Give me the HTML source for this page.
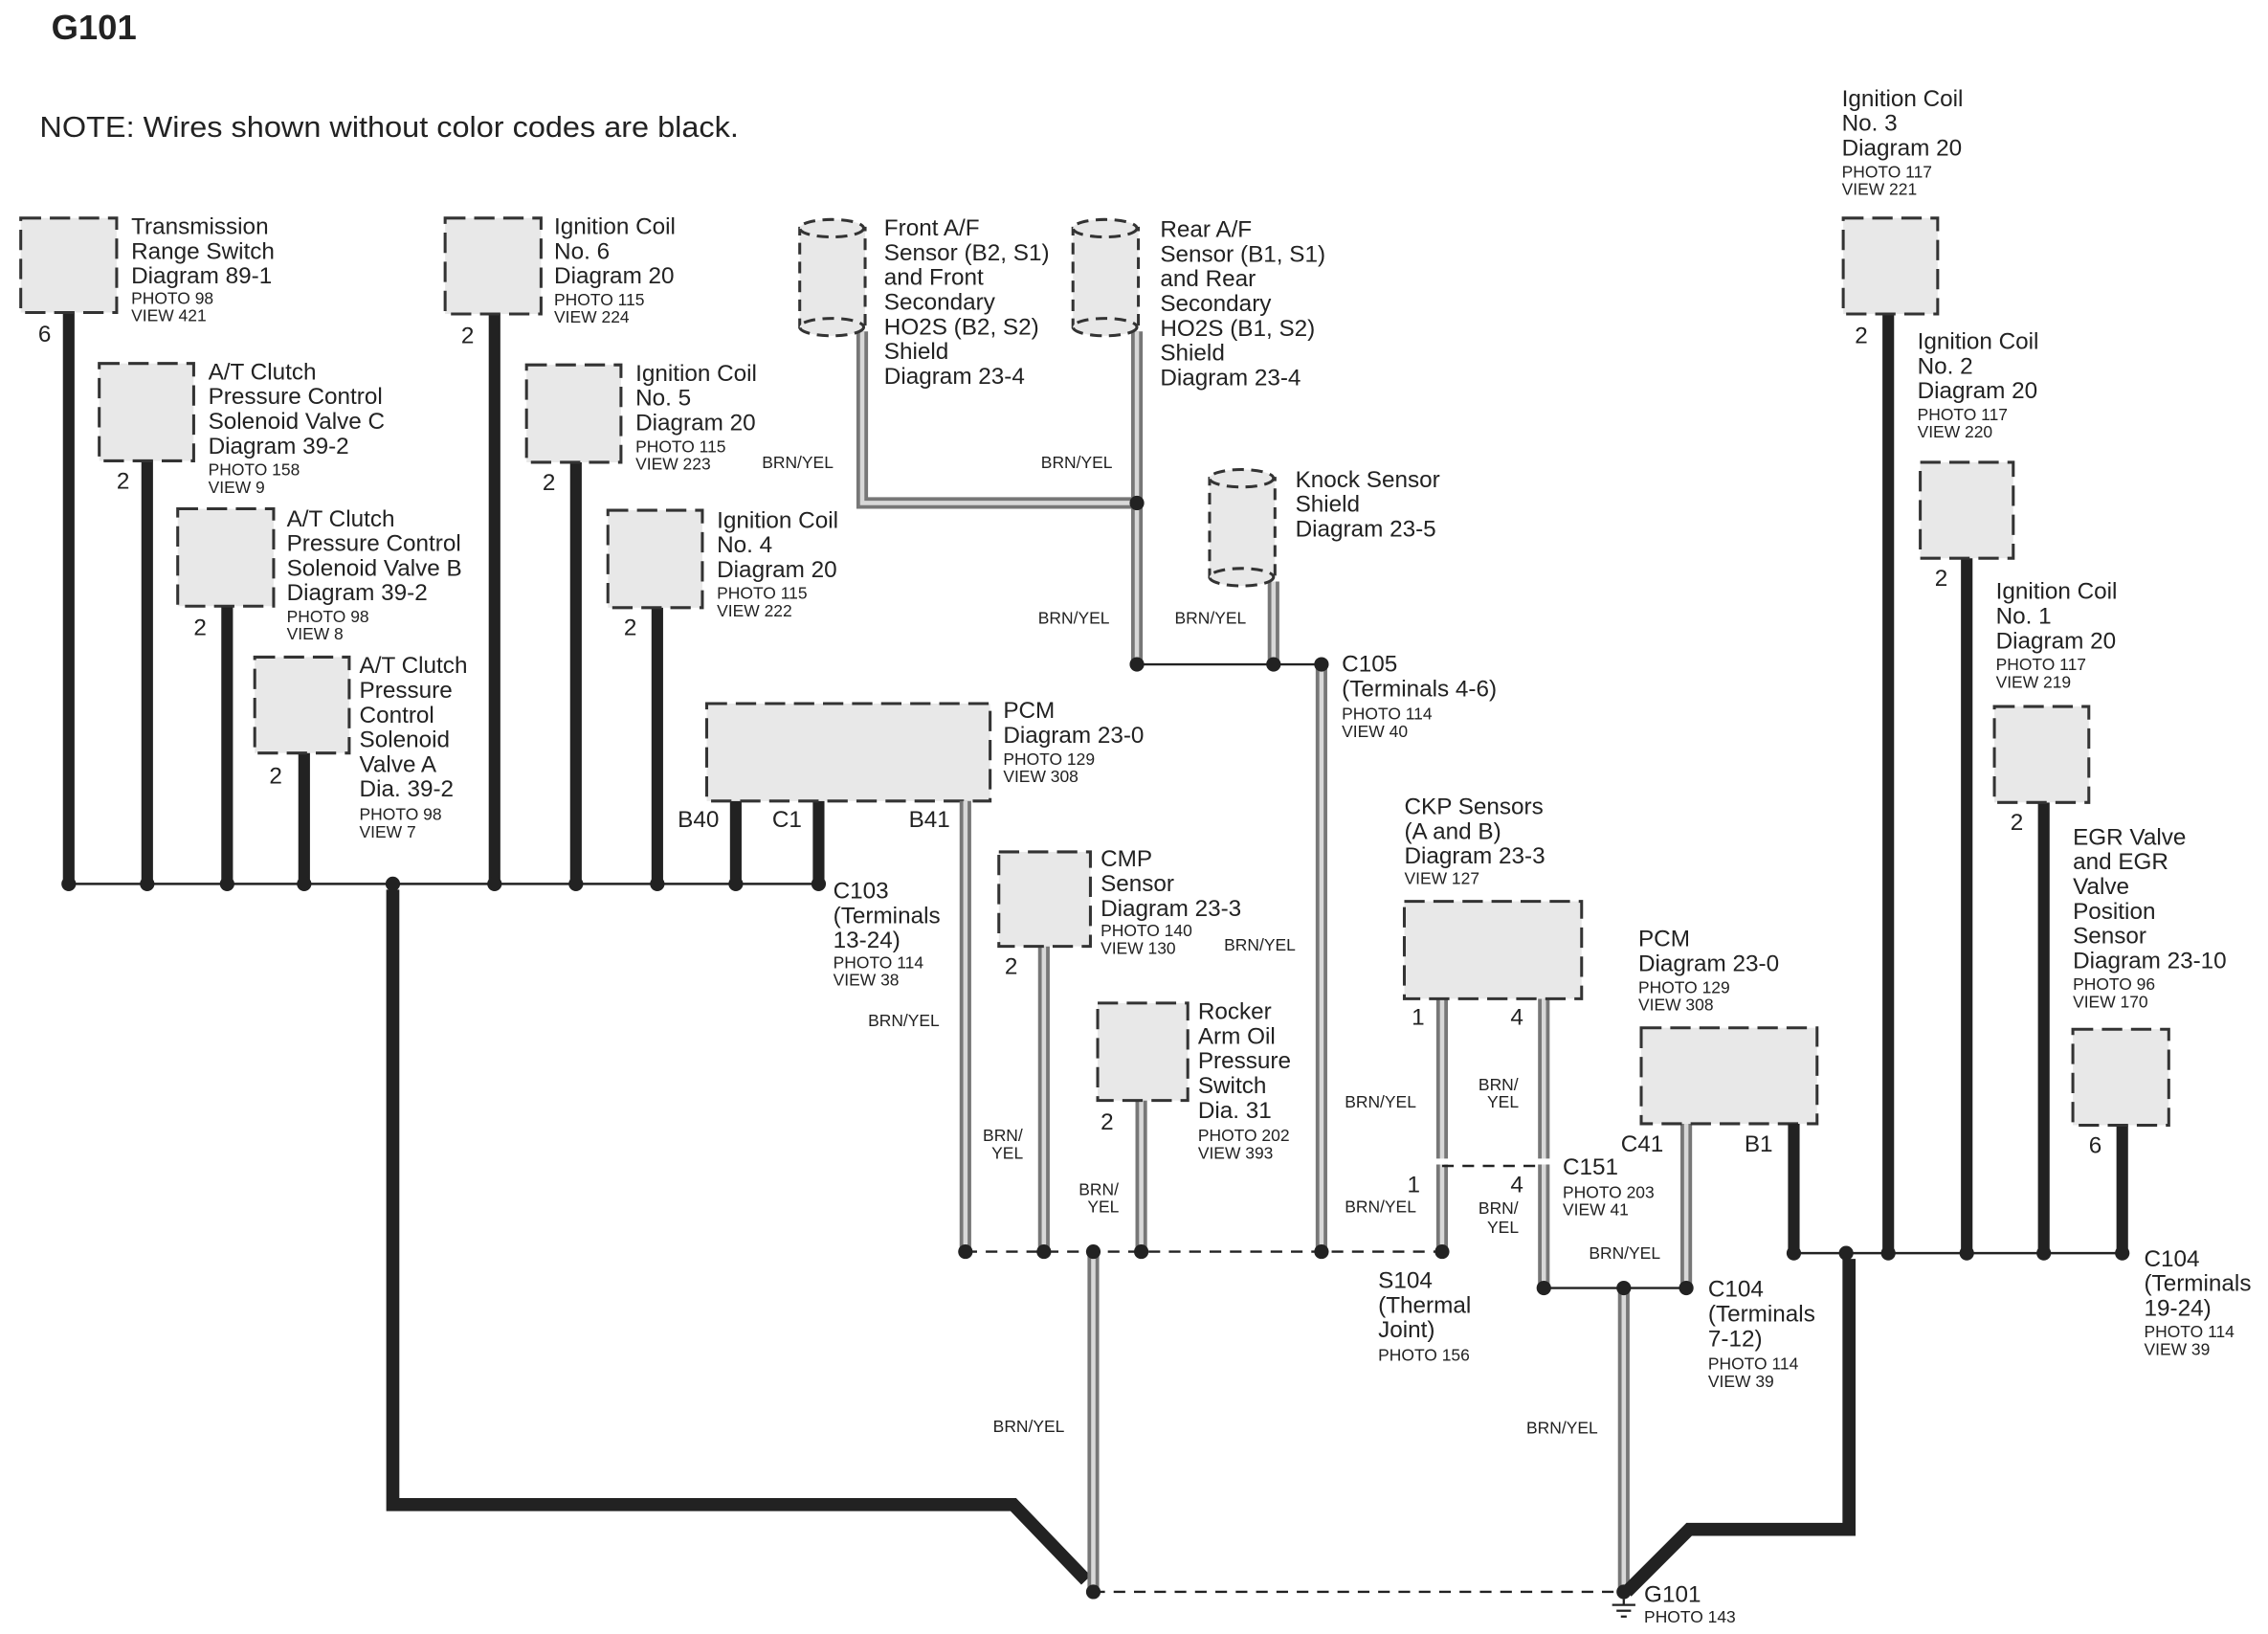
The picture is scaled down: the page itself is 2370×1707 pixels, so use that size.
<!DOCTYPE html>
<html><head><meta charset="utf-8">
<style>
html,body{margin:0;padding:0;background:#fff;}
svg{display:block;}
text{font-family:"Liberation Sans",sans-serif;fill:#222;}
.l{font-size:16px;}
.s{font-size:11.5px;}
.w{font-size:11.5px;}
.box{fill:#e8e8e8;stroke:#333;stroke-width:2;stroke-dasharray:14 6;}
.bk{stroke:#222;stroke-width:8;fill:none;}
.thk{stroke:#222;stroke-width:9;fill:none;stroke-linejoin:miter;}
.by1{stroke:#777;stroke-width:8;fill:none;}
.by2{stroke:#d8d8d8;stroke-width:3;fill:none;}
.thin{stroke:#222;stroke-width:1.6;fill:none;}
.dsh{stroke:#222;stroke-width:1.6;fill:none;stroke-dasharray:8 6;}
.cyl{fill:#e8e8e8;stroke:#333;stroke-width:2;stroke-dasharray:8 5;}
</style></head>
<body>
<svg width="2370" height="1707" viewBox="0 0 1560 1124" xmlns="http://www.w3.org/2000/svg">
<rect width="1560" height="1124" fill="#fff"/>
<text x="35" y="27" style="font-size:24px;font-weight:bold">G101</text>
<text x="27" y="94" style="font-size:20px" textLength="481" lengthAdjust="spacingAndGlyphs">NOTE: Wires shown without color codes are black.</text>

<!-- left bus -->
<line class="thin" x1="47" y1="608" x2="565" y2="608"/>
<line class="bk" x1="47" y1="215" x2="47" y2="608"/>
<line class="bk" x1="101" y1="317" x2="101" y2="608"/>
<line class="bk" x1="156" y1="417" x2="156" y2="608"/>
<line class="bk" x1="209" y1="518" x2="209" y2="608"/>
<line class="bk" x1="340" y1="216" x2="340" y2="608"/>
<line class="bk" x1="396" y1="318" x2="396" y2="608"/>
<line class="bk" x1="452" y1="418" x2="452" y2="608"/>
<line class="bk" x1="506" y1="551" x2="506" y2="608"/>
<line class="bk" x1="563" y1="551" x2="563" y2="608"/>
<path class="thk" d="M270 612 L270 1035 L697 1035 L747 1087"/>

<rect class="box" x="14" y="150" width="66" height="65"/>
<rect class="box" x="68" y="250" width="65" height="67"/>
<rect class="box" x="122" y="350" width="66" height="67"/>
<rect class="box" x="175" y="452" width="65" height="66"/>
<rect class="box" x="306" y="150" width="66" height="66"/>
<rect class="box" x="362" y="251" width="65" height="67"/>
<rect class="box" x="418" y="351" width="65" height="67"/>
<rect class="box" x="486" y="484" width="195" height="67"/>

<g class="l">
<text x="26" y="235">6</text><text x="80" y="336">2</text><text x="133" y="437">2</text><text x="185" y="539">2</text>
<text x="317" y="236">2</text><text x="373" y="337">2</text><text x="429" y="437">2</text>
<text x="466" y="569">B40</text><text x="531" y="569">C1</text><text x="625" y="569">B41</text>
</g>
<text class="l" x="90" y="161">Transmission<tspan x="90" dy="17">Range Switch</tspan><tspan x="90" dy="17">Diagram 89-1</tspan></text>
<text class="s" x="90" y="209">PHOTO 98<tspan x="90" dy="12">VIEW 421</tspan></text>
<text class="l" x="143" y="261">A/T Clutch<tspan x="143" dy="17">Pressure Control</tspan><tspan x="143" dy="17">Solenoid Valve C</tspan><tspan x="143" dy="17">Diagram 39-2</tspan></text>
<text class="s" x="143" y="327">PHOTO 158<tspan x="143" dy="12">VIEW 9</tspan></text>
<text class="l" x="197" y="362">A/T Clutch<tspan x="197" dy="17">Pressure Control</tspan><tspan x="197" dy="17">Solenoid Valve B</tspan><tspan x="197" dy="17">Diagram 39-2</tspan></text>
<text class="s" x="197" y="428">PHOTO 98<tspan x="197" dy="12">VIEW 8</tspan></text>
<text class="l" x="247" y="463">A/T Clutch<tspan x="247" dy="17">Pressure</tspan><tspan x="247" dy="17">Control</tspan><tspan x="247" dy="17">Solenoid</tspan><tspan x="247" dy="17">Valve A</tspan><tspan x="247" dy="17">Dia. 39-2</tspan></text>
<text class="s" x="247" y="564">PHOTO 98<tspan x="247" dy="12">VIEW 7</tspan></text>
<text class="l" x="381" y="161">Ignition Coil<tspan x="381" dy="17">No. 6</tspan><tspan x="381" dy="17">Diagram 20</tspan></text>
<text class="s" x="381" y="210">PHOTO 115<tspan x="381" dy="12">VIEW 224</tspan></text>
<text class="l" x="437" y="262">Ignition Coil<tspan x="437" dy="17">No. 5</tspan><tspan x="437" dy="17">Diagram 20</tspan></text>
<text class="s" x="437" y="311">PHOTO 115<tspan x="437" dy="12">VIEW 223</tspan></text>
<text class="l" x="493" y="363">Ignition Coil<tspan x="493" dy="17">No. 4</tspan><tspan x="493" dy="17">Diagram 20</tspan></text>
<text class="s" x="493" y="412">PHOTO 115<tspan x="493" dy="12">VIEW 222</tspan></text>
<text class="l" x="690" y="494">PCM<tspan x="690" dy="17">Diagram 23-0</tspan></text>
<text class="s" x="690" y="526">PHOTO 129<tspan x="690" dy="12">VIEW 308</tspan></text>
<text class="l" x="573" y="618">C103<tspan x="573" dy="17">(Terminals</tspan><tspan x="573" dy="17">13-24)</tspan></text>
<text class="s" x="573" y="666">PHOTO 114<tspan x="573" dy="12">VIEW 38</tspan></text>

<g fill="#222">
<circle cx="47" cy="608" r="5"/><circle cx="101" cy="608" r="5"/><circle cx="156" cy="608" r="5"/><circle cx="209" cy="608" r="5"/><circle cx="270" cy="608" r="5"/><circle cx="340" cy="608" r="5"/><circle cx="396" cy="608" r="5"/><circle cx="452" cy="608" r="5"/><circle cx="506" cy="608" r="5"/><circle cx="563" cy="608" r="5"/>
</g>

<g>
<path class="by1" d="M593 228 L593 346 L782 346"/>
<line class="by1" x1="782" y1="228" x2="782" y2="457"/>
<line class="by1" x1="876" y1="400" x2="876" y2="457"/>
<line class="by1" x1="909" y1="457" x2="909" y2="861"/>
<line class="by1" x1="664" y1="551" x2="664" y2="861"/>
<line class="by1" x1="718" y1="651" x2="718" y2="861"/>
<line class="by1" x1="785" y1="757" x2="785" y2="861"/>
<line class="by1" x1="752" y1="861" x2="752" y2="1095"/>
<line class="by1" x1="992" y1="687" x2="992" y2="861"/>
<line class="by1" x1="1062" y1="687" x2="1062" y2="886"/>
<line class="by1" x1="1160" y1="773" x2="1160" y2="886"/>
<line class="by1" x1="1117" y1="886" x2="1117" y2="1095"/>
<path class="by2" d="M593 228 L593 346 L782 346"/>
<line class="by2" x1="782" y1="228" x2="782" y2="457"/>
<line class="by2" x1="876" y1="400" x2="876" y2="457"/>
<line class="by2" x1="909" y1="457" x2="909" y2="861"/>
<line class="by2" x1="664" y1="551" x2="664" y2="861"/>
<line class="by2" x1="718" y1="651" x2="718" y2="861"/>
<line class="by2" x1="785" y1="757" x2="785" y2="861"/>
<line class="by2" x1="752" y1="861" x2="752" y2="1095"/>
<line class="by2" x1="992" y1="687" x2="992" y2="861"/>
<line class="by2" x1="1062" y1="687" x2="1062" y2="886"/>
<line class="by2" x1="1160" y1="773" x2="1160" y2="886"/>
<line class="by2" x1="1117" y1="886" x2="1117" y2="1095"/>
</g>
<line class="thin" x1="782" y1="457" x2="909" y2="457"/>
<line class="dsh" x1="664" y1="861" x2="992" y2="861"/>
<line class="dsh" x1="992" y1="802" x2="1062" y2="802"/>
<line class="thin" x1="1062" y1="886" x2="1160" y2="886"/>
<line class="dsh" x1="752" y1="1095" x2="1117" y2="1095"/>
<line x1="984" y1="799" x2="1000" y2="799" stroke="#fff" stroke-width="4"/>
<line x1="1054" y1="799" x2="1070" y2="799" stroke="#fff" stroke-width="4"/>

<g>
<rect class="cyl" x="550" y="157" width="45" height="68"/>
<ellipse class="cyl" cx="572" cy="157" rx="22" ry="6"/>
<ellipse class="cyl" cx="572" cy="225" rx="22" ry="6"/>
<rect class="cyl" x="738" y="157" width="45" height="68"/>
<ellipse class="cyl" cx="760" cy="157" rx="22" ry="6"/>
<ellipse class="cyl" cx="760" cy="225" rx="22" ry="6"/>
<rect class="cyl" x="832" y="329" width="45" height="68"/>
<ellipse class="cyl" cx="854" cy="329" rx="22" ry="6"/>
<ellipse class="cyl" cx="854" cy="397" rx="22" ry="6"/>
</g>
<text class="l" x="608" y="162">Front A/F<tspan x="608" dy="17">Sensor (B2, S1)</tspan><tspan x="608" dy="17">and Front</tspan><tspan x="608" dy="17">Secondary</tspan><tspan x="608" dy="17">HO2S (B2, S2)</tspan><tspan x="608" dy="17">Shield</tspan><tspan x="608" dy="17">Diagram  23-4</tspan></text>
<text class="l" x="798" y="163">Rear A/F<tspan x="798" dy="17">Sensor (B1, S1)</tspan><tspan x="798" dy="17">and Rear</tspan><tspan x="798" dy="17">Secondary</tspan><tspan x="798" dy="17">HO2S (B1, S2)</tspan><tspan x="798" dy="17">Shield</tspan><tspan x="798" dy="17">Diagram  23-4</tspan></text>
<text class="l" x="891" y="335">Knock Sensor<tspan x="891" dy="17">Shield</tspan><tspan x="891" dy="17">Diagram  23-5</tspan></text>
<text class="l" x="923" y="462">C105<tspan x="923" dy="17">(Terminals 4-6)</tspan></text>
<text class="s" x="923" y="495">PHOTO 114<tspan x="923" dy="12">VIEW 40</tspan></text>

<g class="w">
<text x="524" y="322">BRN/YEL</text><text x="716" y="322">BRN/YEL</text>
<text x="714" y="429">BRN/YEL</text><text x="808" y="429">BRN/YEL</text>
<text x="842" y="654">BRN/YEL</text><text x="597" y="706">BRN/YEL</text>
<text x="676" y="785">BRN/</text><text x="682" y="797">YEL</text>
<text x="742" y="822">BRN/</text><text x="748" y="834">YEL</text>
<text x="925" y="762">BRN/YEL</text><text x="925" y="834">BRN/YEL</text>
<text x="1017" y="750">BRN/</text><text x="1023" y="762">YEL</text>
<text x="1017" y="835">BRN/</text><text x="1023" y="848">YEL</text>
<text x="1093" y="866">BRN/YEL</text>
<text x="683" y="985">BRN/YEL</text><text x="1050" y="986">BRN/YEL</text>
</g>

<rect class="box" x="687" y="586" width="63" height="65"/>
<rect class="box" x="755" y="690" width="62" height="67"/>
<rect class="box" x="966" y="620" width="122" height="67"/>
<rect class="box" x="1129" y="707" width="121" height="66"/>
<g class="l">
<text x="691" y="670">2</text><text x="757" y="777">2</text>
<text x="971" y="705">1</text><text x="1039" y="705">4</text>
<text x="968" y="820">1</text><text x="1039" y="820">4</text>
<text x="1115" y="792">C41</text><text x="1200" y="792">B1</text>
</g>
<text class="l" x="757" y="596">CMP<tspan x="757" dy="17">Sensor</tspan><tspan x="757" dy="17">Diagram 23-3</tspan></text>
<text class="s" x="757" y="644">PHOTO 140<tspan x="757" dy="12">VIEW 130</tspan></text>
<text class="l" x="824" y="701">Rocker<tspan x="824" dy="17">Arm Oil</tspan><tspan x="824" dy="17">Pressure</tspan><tspan x="824" dy="17">Switch</tspan><tspan x="824" dy="17">Dia. 31</tspan></text>
<text class="s" x="824" y="785">PHOTO 202<tspan x="824" dy="12">VIEW 393</tspan></text>
<text class="l" x="966" y="560">CKP Sensors<tspan x="966" dy="17">(A and B)</tspan><tspan x="966" dy="17">Diagram  23-3</tspan></text>
<text class="s" x="966" y="608">VIEW 127</text>
<text class="l" x="1075" y="808">C151</text>
<text class="s" x="1075" y="824">PHOTO 203<tspan x="1075" dy="12">VIEW 41</tspan></text>
<text class="l" x="948" y="886">S104<tspan x="948" dy="17">(Thermal</tspan><tspan x="948" dy="17">Joint)</tspan></text>
<text class="s" x="948" y="936">PHOTO 156</text>
<text class="l" x="1127" y="651">PCM<tspan x="1127" dy="17">Diagram 23-0</tspan></text>
<text class="s" x="1127" y="683">PHOTO 129<tspan x="1127" dy="12">VIEW 308</tspan></text>
<text class="l" x="1175" y="892">C104<tspan x="1175" dy="17">(Terminals</tspan><tspan x="1175" dy="17">7-12)</tspan></text>
<text class="s" x="1175" y="942">PHOTO 114<tspan x="1175" dy="12">VIEW 39</tspan></text>

<line class="thin" x1="1234" y1="862" x2="1460" y2="862"/>
<line class="bk" x1="1234" y1="773" x2="1234" y2="862"/>
<line class="bk" x1="1299" y1="216" x2="1299" y2="862"/>
<line class="bk" x1="1353" y1="384" x2="1353" y2="862"/>
<line class="bk" x1="1406" y1="552" x2="1406" y2="862"/>
<line class="bk" x1="1460" y1="774" x2="1460" y2="862"/>
<path class="thk" d="M1272 866 L1272 1052 L1162 1052 L1119 1095"/>
<rect class="box" x="1268" y="150" width="65" height="66"/>
<rect class="box" x="1321" y="318" width="64" height="66"/>
<rect class="box" x="1372" y="486" width="65" height="66"/>
<rect class="box" x="1426" y="708" width="66" height="66"/>
<g class="l">
<text x="1276" y="236">2</text><text x="1331" y="403">2</text><text x="1383" y="571">2</text><text x="1437" y="793">6</text>
</g>
<text class="l" x="1267" y="73">Ignition Coil<tspan x="1267" dy="17">No. 3</tspan><tspan x="1267" dy="17">Diagram 20</tspan></text>
<text class="s" x="1267" y="122">PHOTO 117<tspan x="1267" dy="12">VIEW 221</tspan></text>
<text class="l" x="1319" y="240">Ignition Coil<tspan x="1319" dy="17">No. 2</tspan><tspan x="1319" dy="17">Diagram 20</tspan></text>
<text class="s" x="1319" y="289">PHOTO 117<tspan x="1319" dy="12">VIEW 220</tspan></text>
<text class="l" x="1373" y="412">Ignition Coil<tspan x="1373" dy="17">No. 1</tspan><tspan x="1373" dy="17">Diagram 20</tspan></text>
<text class="s" x="1373" y="461">PHOTO 117<tspan x="1373" dy="12">VIEW 219</tspan></text>
<text class="l" x="1426" y="581">EGR Valve<tspan x="1426" dy="17">and EGR</tspan><tspan x="1426" dy="17">Valve</tspan><tspan x="1426" dy="17">Position</tspan><tspan x="1426" dy="17">Sensor</tspan><tspan x="1426" dy="17">Diagram 23-10</tspan></text>
<text class="s" x="1426" y="681">PHOTO 96<tspan x="1426" dy="12">VIEW 170</tspan></text>
<text class="l" x="1475" y="871">C104<tspan x="1475" dy="17">(Terminals</tspan><tspan x="1475" dy="17">19-24)</tspan></text>
<text class="s" x="1475" y="920">PHOTO 114<tspan x="1475" dy="12">VIEW 39</tspan></text>
<text class="l" x="1131" y="1102">G101</text>
<text class="s" x="1131" y="1116">PHOTO 143</text>

<g fill="#222">
<circle cx="782" cy="346" r="5"/><circle cx="782" cy="457" r="5"/><circle cx="876" cy="457" r="5"/><circle cx="909" cy="457" r="5"/>
<circle cx="664" cy="861" r="5"/><circle cx="718" cy="861" r="5"/><circle cx="752" cy="861" r="5"/><circle cx="785" cy="861" r="5"/><circle cx="909" cy="861" r="5"/><circle cx="992" cy="861" r="5"/>
<circle cx="1062" cy="886" r="5"/><circle cx="1117" cy="886" r="5"/><circle cx="1160" cy="886" r="5"/>
<circle cx="1234" cy="862" r="5"/><circle cx="1270" cy="862" r="5"/><circle cx="1299" cy="862" r="5"/><circle cx="1353" cy="862" r="5"/><circle cx="1406" cy="862" r="5"/><circle cx="1460" cy="862" r="5"/>
<circle cx="752" cy="1095" r="5"/><circle cx="1117" cy="1095" r="5"/>
</g>
<g stroke="#222" stroke-width="1.5">
<line x1="1117" y1="1100" x2="1117" y2="1104"/>
<line x1="1109" y1="1104" x2="1125" y2="1104"/>
<line x1="1112" y1="1108" x2="1122" y2="1108"/>
<line x1="1115" y1="1112" x2="1119" y2="1112"/>
</g>
</svg>
</body></html>
